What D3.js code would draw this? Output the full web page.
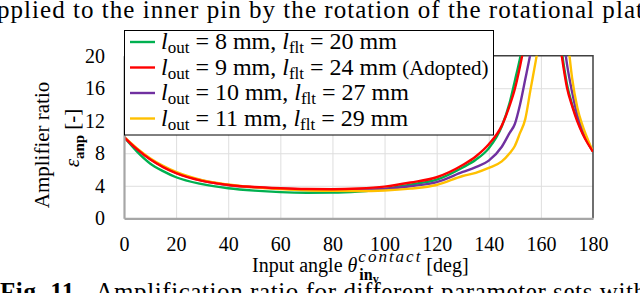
<!DOCTYPE html>
<html>
<head>
<meta charset="utf-8">
<script src="https://cdn.jsdelivr.net/npm/d3@7"></script>
<style>
  body { margin: 0; background: #fff; }
  svg { display: block; }
</style>
</head>
<body>
<svg id="chart" width="640" height="293"></svg>
<script>
// Input angle (deg) shared by all series, null = curve is off the chart (asymptote)
const angles = [0, 5, 10, 15, 20, 30, 40, 50, 60, 70, 80, 90, 100, 110, 120, 130, 135, 140, 145, 148, 150, 152, 154, 156, 158, 160, 162, 164, 166, 168, 170, 172, 174, 176, 178, 180]
const ratioOut8 = [10, 8.2, 6.75, 5.8, 5.05, 4.2, 3.7, 3.4, 3.22, 3.15, 3.16, 3.3, 3.6, 4.15, 4.75, 6.25, 7.2, 8.6, 11.3, 14.2, 16.9, 19.7, 23, null, null, null, null, null, 26, 20.6, 16.5, 14, 12.1, 10.5, 9.3, 8.2]
const ratioOut9 = [10, 8.5, 7.25, 6.3, 5.55, 4.6, 4.1, 3.85, 3.7, 3.6, 3.57, 3.66, 3.9, 4.4, 5.05, 6.55, 7.6, 9.1, 11.4, 13.85, 15.9, 18.7, 22, null, null, null, null, null, 25, 20, 16.1, 13.8, 11.9, 10.4, 9.2, 8.2]
const ratioOut10 = [10, 8.5, 7.3, 6.35, 5.6, 4.65, 4.1, 3.8, 3.65, 3.55, 3.5, 3.5, 3.6, 3.95, 4.45, 5.7, 6.3, 7.1, 8.8, 10.5, 11.6, 14, 17.1, 20.3, 24, null, null, null, null, 24, 19, 15.5, 12.7, 10.9, 9.4, 8.2]
const ratioOut11 = [10, 8.6, 7.4, 6.45, 5.7, 4.7, 4.15, 3.8, 3.6, 3.45, 3.38, 3.35, 3.42, 3.65, 4.1, 5.2, 5.6, 6.2, 7.0, 8.0, 8.9, 10.5, 12.2, 15.8, 19.3, 23, null, null, null, null, 23, 17.2, 13.6, 11.4, 9.7, 8.2]

const lOut = ["8", "9", "10", "11"]
const lFlt = ["20", "24", "27", "29"]
const xTicks = [0, 20, 40, 60, 80, 100, 120, 140, 160, 180]
const yTicks = [0, 4, 8, 12, 16, 20]

const colors = ["#00b050", "#ff0000", "#7030a0", "#ffc000"]
const seriesData = [ratioOut8, ratioOut9, ratioOut10, ratioOut11]
// draw order: green, purple, yellow, red on top
const drawOrder = [0, 2, 3, 1]

const dimensions = {
  width: 640,
  height: 293,
  margin: { top: 55.7, right: 47, bottom: 74.7, left: 124 },
}
dimensions.boundedWidth = dimensions.width - dimensions.margin.left - dimensions.margin.right
dimensions.boundedHeight = dimensions.height - dimensions.margin.top - dimensions.margin.bottom

const xScale = d3.scaleLinear().domain([0, 180]).range([0, dimensions.boundedWidth])
const yScale = d3.scaleLinear().domain([0, 20]).range([dimensions.boundedHeight, 0])

const svg = d3.select("#chart")

const serifText = (parent, size) => parent.append("text")
  .style("font-family", '"Liberation Serif"')
  .style("font-size", `${size}px`)

// text above and below the figure (page context)
serifText(svg, 25)
  .attr("x", -3).attr("y", 18)
  .attr("textLength", 646).attr("lengthAdjust", "spacing")
  .text("pplied to the inner pin by the rotation of the rotational plat")

const caption = serifText(svg, 25)
  .attr("x", 0).attr("y", 300)
  .attr("textLength", 646).attr("lengthAdjust", "spacing")
caption.append("tspan").style("font-weight", "bold").text("Fig. 11.")
caption.append("tspan").text("\u00a0\u00a0Amplification ratio for different parameter sets with")

const bounds = svg.append("g")
  .attr("transform", `translate(${dimensions.margin.left},${dimensions.margin.top})`)

// grid
bounds.append("g")
  .call(d3.axisBottom(xScale).tickValues(xTicks.slice(1, -1)).tickSize(-dimensions.boundedHeight).tickFormat(""))
  .attr("transform", `translate(0,${dimensions.boundedHeight})`)
  .call(g => g.select(".domain").remove())
  .call(g => g.selectAll("line").attr("stroke", "#dedede").attr("stroke-width", 1))
bounds.append("g")
  .call(d3.axisLeft(yScale).tickValues(yTicks.slice(1, -1)).tickSize(-dimensions.boundedWidth).tickFormat(""))
  .call(g => g.select(".domain").remove())
  .call(g => g.selectAll("line").attr("stroke", "#dedede").attr("stroke-width", 1))

// top / right frame
bounds.append("path")
  .attr("d", `M0,0H${dimensions.boundedWidth}V${dimensions.boundedHeight}`)
  .attr("fill", "none").attr("stroke", "#404040").attr("stroke-width", 1.5)

// curves
bounds.append("clipPath").attr("id", "plot-clip")
  .append("rect")
  .attr("width", dimensions.boundedWidth).attr("height", dimensions.boundedHeight)

const lineGen = d3.line()
  .defined(d => d[1] != null)
  .x(d => xScale(d[0]))
  .y(d => yScale(d[1]))
  .curve(d3.curveMonotoneX)

const curves = bounds.append("g").attr("clip-path", "url(#plot-clip)")
drawOrder.forEach(i => {
  curves.append("path")
    .datum(angles.map((a, j) => [a, seriesData[i][j]]))
    .attr("d", lineGen)
    .attr("fill", "none")
    .attr("stroke", colors[i])
    .attr("stroke-width", 2.4)
})

// axes
const xAxis = bounds.append("g")
  .attr("transform", `translate(0,${dimensions.boundedHeight})`)
  .call(d3.axisBottom(xScale).tickValues(xTicks).tickSize(0).tickPadding(0))
xAxis.select(".domain").attr("stroke", "#a6a6a6").attr("stroke-width", 2.2)
xAxis.selectAll("text")
  .style("font-family", '"Liberation Serif"').style("font-size", "20px")
  .attr("fill", "#000")
  .attr("dy", null).attr("y", 33)

const yAxis = bounds.append("g")
  .call(d3.axisLeft(yScale).tickValues(yTicks).tickSize(0).tickPadding(19))
yAxis.select(".domain").attr("stroke", "#a6a6a6").attr("stroke-width", 2.2)
yAxis.selectAll("text")
  .style("font-family", '"Liberation Serif"').style("font-size", "20px")
  .attr("fill", "#000")

// axis titles
serifText(svg, 21)
  .attr("transform", "translate(49,145) rotate(-90)")
  .attr("text-anchor", "middle")
  .text("Amplifier ratio")
const yTitle2 = serifText(svg, 21)
  .attr("transform", "translate(79,138) rotate(-90)")
  .attr("text-anchor", "middle")
yTitle2.append("tspan").style("font-style", "italic").text("ε")
yTitle2.append("tspan").style("font-weight", "bold").style("font-size", "15px").attr("dy", 5).text("anp")
yTitle2.append("tspan").attr("dy", -5).text(" [-]")

const xTitleX = 252
const xTitleY = 272
const xTitle = serifText(svg, 20)
  .attr("x", xTitleX).attr("y", xTitleY)
xTitle.append("tspan").text("Input angle ")
xTitle.append("tspan").style("font-style", "italic").text("θ")
const afterTheta = xTitleX + xTitle.node().getComputedTextLength() + 1
const sup = serifText(svg, 17)
  .attr("x", afterTheta).attr("y", xTitleY - 10)
  .attr("textLength", 62).attr("lengthAdjust", "spacing")
  .style("font-style", "italic")
  .text("contact")
const sub = serifText(svg, 16)
  .attr("x", afterTheta + 1).attr("y", xTitleY + 8)
  .style("font-weight", "bold")
sub.append("tspan").text("in")
sub.append("tspan").style("font-size", "12px").attr("dy", 3).text("v")
const afterScripts = afterTheta + 62
serifText(svg, 20)
  .attr("x", afterScripts + 6).attr("y", xTitleY)
  .text("[deg]")

// legend
const legend = svg.append("g")
legend.append("rect")
  .attr("x", 124.5).attr("y", 30.5)
  .attr("width", 369).attr("height", 104.5)
  .attr("fill", "#fff").attr("stroke", "#000").attr("stroke-width", 1)

const rowY = [42, 67.5, 93, 118.5]
lOut.forEach((v, i) => {
  legend.append("line")
    .attr("x1", 130).attr("x2", 155)
    .attr("y1", rowY[i]).attr("y2", rowY[i])
    .attr("stroke", colors[i]).attr("stroke-width", 2.4)
  const t = serifText(legend, 24)
    .attr("x", 161).attr("y", rowY[i] + 7)
  t.append("tspan").style("font-style", "italic").text("l")
  t.append("tspan").style("font-size", "17px").attr("dy", 4).text("out")
  t.append("tspan").attr("dy", -4).text(` = ${v} mm, `)
  t.append("tspan").style("font-style", "italic").text("l")
  t.append("tspan").style("font-size", "17px").attr("dy", 4).text("flt")
  t.append("tspan").attr("dy", -4).text(` = ${lFlt[i]} mm`)
  if (i === 1) {
    t.append("tspan").style("font-size", "21px").text(" (Adopted)")
  }
})
</script>
</body>
</html>
